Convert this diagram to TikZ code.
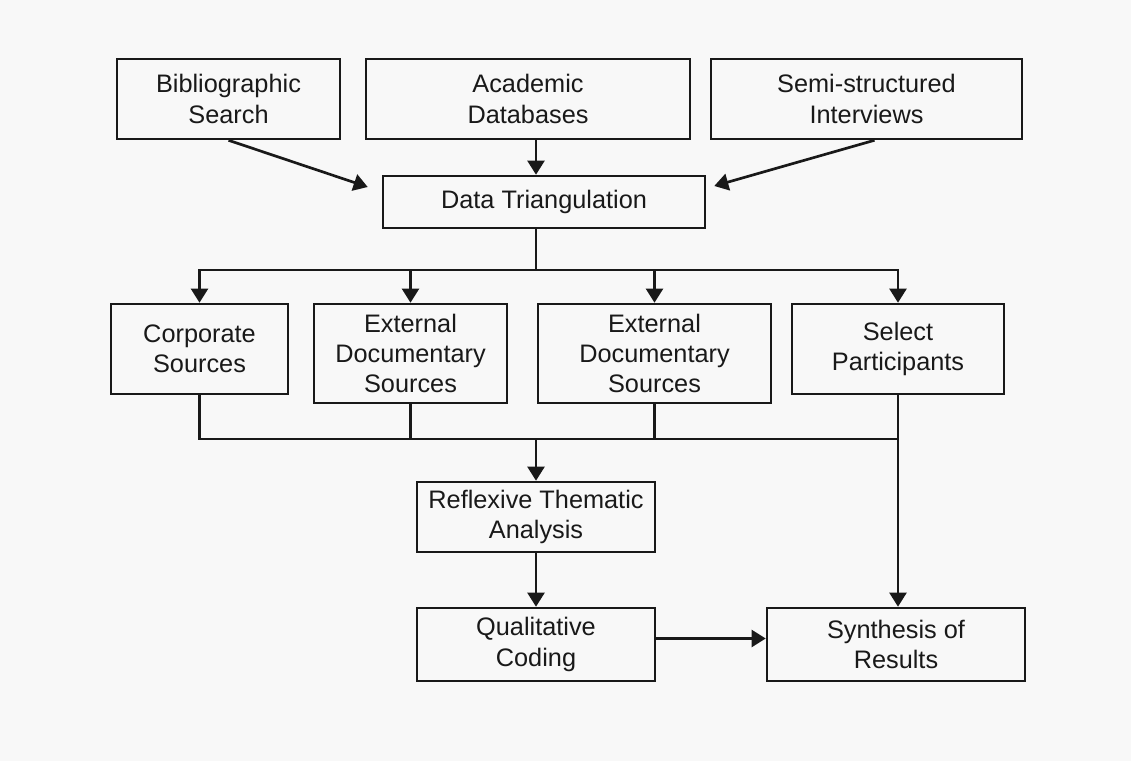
\documentclass[tikz,border=0pt]{standalone}
\usepackage{fontspec}
\setmainfont{Liberation Sans}
\usepackage{tikz}
\usetikzlibrary{arrows.meta}

\definecolor{bgcol}{RGB}{248,248,248}
\definecolor{inkcol}{RGB}{25,25,25}

\begin{document}
\begin{tikzpicture}[
        box/.style={rectangle, draw=inkcol, line width=1.8pt, align=center, inner sep=2pt,
            font=\fontsize{18}{21.5}\selectfont, text=inkcol},
        link/.style={draw=inkcol, line width=1.9pt, -{Triangle[length=10pt, width=12pt]}},
        wire/.style={draw=inkcol, line width=1.9pt}
    ]

    % background and margins
    \fill[bgcol] (0,0) rectangle (28.275,-19.025);
    \useasboundingbox (0,0) rectangle (28.275,-19.025);

    % Row 1: sources
    \node[box, minimum width=5.575cm, minimum height=2cm] (bib) at (5.7125,-2.475) {Bibliographic\\Search};
    \node[box, minimum width=8.1cm, minimum height=2cm] (aca) at (13.2,-2.475) {Academic\\Databases};
    \node[box, minimum width=7.775cm, minimum height=2cm] (semi) at (21.6625,-2.475) {Semi-structured\\Interviews};

    % Row 2
    \node[box, minimum width=8.05cm, minimum height=1.3cm] (tri) at (13.6,-5.05) {Data Triangulation};

    % Row 3
    \node[box, minimum width=4.425cm, minimum height=2.25cm] (corp) at (4.9875,-8.725) {Corporate\\Sources};
    \node[box, minimum width=4.825cm, minimum height=2.475cm] (ext1) at (10.2625,-8.8375) {External\\Documentary\\Sources};
    \node[box, minimum width=5.825cm, minimum height=2.475cm] (ext2) at (16.3625,-8.8375) {External\\Documentary\\Sources};
    \node[box, minimum width=5.3cm, minimum height=2.25cm] (sel) at (22.45,-8.725) {Select\\Participants};

    % Row 4 and 5
    \node[box, minimum width=5.95cm, minimum height=1.75cm] (refl) at (13.4,-12.925) {Reflexive Thematic\\Analysis};
    \node[box, minimum width=5.95cm, minimum height=1.825cm] (qual) at (13.4,-16.1125) {Qualitative\\Coding};
    \node[box, minimum width=6.45cm, minimum height=1.825cm] (syn) at (22.4,-16.1125) {Synthesis of\\Results};

    % bus lines
    \coordinate (top) at (13.4,-6.75);
    \coordinate (low) at (13.4,-10.975);

    % into triangulation
    \draw[link] (bib.south) -- ([shift={(-0.35,0.375)}]tri.west);
    \draw[link] (refl.north |- aca.south) -- (refl.north |- tri.north);
    \draw[link] ([xshift=0.2cm]semi.south) -- ([shift={(0.2,0.4)}]tri.east);

    % out of triangulation
    \draw[wire] (top |- tri.south) -- (top);
    \draw[wire, line cap=rect] (top -| corp.north) -- (top -| sel.north);
    \foreach \n in {corp, ext1, ext2, sel}
        \draw[link] (top -| \n.north) -- (\n.north);

    % into analysis
    \foreach \n in {corp, ext1, ext2}
        \draw[wire] (\n.south) -- (low -| \n.south);
    \draw[wire, line cap=rect] (low -| corp.south) -- (low -| sel.south);
    \draw[link] (low) -- (refl.north);
    \draw[link] (sel.south) -- (sel.south |- syn.north);

    % last steps
    \draw[link] (refl.south) -- (qual.north);
    \draw[link] ([yshift=0.15cm]qual.east) -- ([yshift=0.15cm]syn.west);

\end{tikzpicture}
\end{document}
